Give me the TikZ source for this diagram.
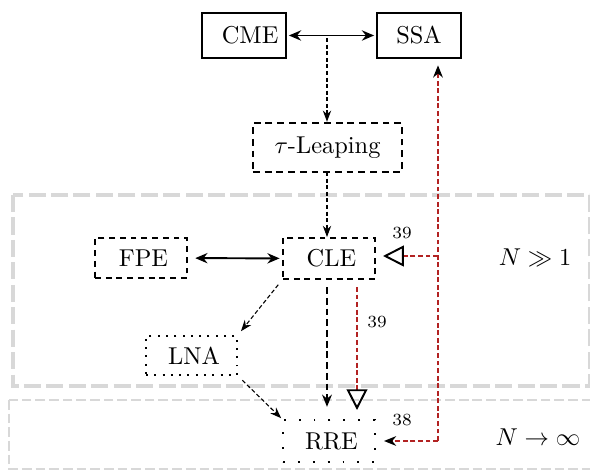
\documentclass[tikz,border=0pt]{standalone}
\usetikzlibrary{arrows.meta,calc}
\definecolor{redd}{RGB}{178,34,34}
\definecolor{grayb}{RGB}{216,216,216}
\tikzset{
  solidbox/.style={draw, line width=0.8pt, inner sep=0pt},
  dashbox/.style={draw, line width=0.8pt, dash pattern=on 2.4pt off 2pt, inner sep=0pt},
  taubox/.style={draw, line width=1pt, dash pattern=on 2.8pt off 2pt, inner sep=0pt},
  dotbox/.style={draw, line width=0.8pt, dash pattern=on 0.8pt off 2.6pt, inner sep=0pt},
  loosedotbox/.style={draw, line width=0.8pt, dash pattern=on 0.8pt off 5.3pt, inner sep=0pt},
  solidarrow/.style={line width=0.8pt, {Stealth[length=5pt,width=4.2pt]}-{Stealth[length=5pt,width=4.2pt]}},
  thinarrow/.style={line width=0.45pt, dash pattern=on 1.7pt off 1pt, -{Stealth[length=4.6pt,width=3.4pt]}},
  thickarrow/.style={line width=0.8pt, dash pattern=on 2.8pt off 1.6pt, -{Stealth[length=5pt,width=4pt]}},
  redline/.style={draw=redd, line width=0.65pt, dash pattern=on 2pt off 1.1pt},
  lbl/.style={font=\scriptsize, inner sep=0pt},
  region/.style={draw=grayb, line width=1.6pt, dash pattern=on 7pt off 2.2pt},
  regiontwo/.style={draw=grayb, line width=1pt, dash pattern=on 4pt off 1.6pt}
}
\begin{document}
\begin{tikzpicture}[x=0.41pt,y=-0.41pt]
\useasboundingbox (0,0) rectangle (590,470);
% regions
\draw[region] (13,195) rectangle (590,386);
\draw[regiontwo] (9,400) rectangle (600,469);
% nodes
\node[solidbox, minimum width=34.4pt, minimum height=18.5pt] (CME) at (244,35.5) {\hspace*{5pt}CME};
\node[solidbox, minimum width=34.4pt, minimum height=18.5pt] (SSA) at (419,35.5) {SSA};
\node[taubox, minimum width=61.1pt, minimum height=20.1pt] (tau) at (327.5,147.5) {$\tau$-Leaping};
\node[dashbox, minimum width=37.7pt, minimum height=16.8pt] (CLE) at (329,258.5) {\hspace*{2pt}CLE};
\node[dashbox, minimum width=37.7pt, minimum height=16.4pt] (FPE) at (141,258) {\hspace*{2pt}FPE};
\node[dotbox, minimum width=37.3pt, minimum height=16pt] (LNA) at (191.5,355.5) {\hspace*{2pt}LNA};
\node[loosedotbox, minimum width=37.7pt, minimum height=17.2pt] (RRE) at (329,441) {\hspace*{2pt}RRE};
% labels
\node[inner sep=0pt] (nbig) at (535,258) {$N \gg 1$};
\node[inner sep=0pt] (ninf) at (538,437) {$N \rightarrow \infty$};
\node[lbl] (l39a) at (402,233) {39};
\node[lbl] (l39b) at (377,322) {39};
\node[lbl] (l38) at (402,420) {38};
% black connectors
\draw[solidarrow, shorten <=0.8pt, shorten >=0.8pt] (CME) -- (SSA);
\coordinate (m1) at (327,38);
\draw[thinarrow] (m1) -- (m1 |- tau.north);
\coordinate (m2) at (327,172);
\draw[thinarrow] (m2) -- (m2 |- CLE.north);
\draw[solidarrow, shorten <=3pt, shorten >=1pt] (FPE) -- (CLE);
\draw[thinarrow, shorten <=2.5pt, shorten >=2pt] (CLE.south west) -- (LNA.north east);
\draw[thinarrow, shorten <=2.5pt, shorten >=0.5pt] (LNA.south east) -- (RRE.north west);
\coordinate (m3) at (327,279);
\draw[thickarrow, shorten <=3.3pt, shorten >=5pt] (m3) -- (m3 |- RRE.north);
% red connectors
\coordinate (r0) at (357,279);
\draw[redline, -{Triangle[open,length=8.5pt,width=8.5pt,black,line width=0.8pt]}, shorten <=3.3pt, shorten >=3.7pt] (r0) -- (r0 |- RRE.north);
\coordinate (c1) at (438,441);
\coordinate (c2) at (438,256);
\draw[redline, -{Stealth[length=5pt,width=4pt,black]}, shorten >=2.6pt] (c1) -- (c1 |- SSA.south);
\draw[redline, -{Triangle[open,length=8.5pt,width=8.5pt,black,line width=0.8pt]}, shorten >=2.9pt] (c2) -- (c2 -| CLE.east);
\draw[redline, -{Stealth[length=5pt,width=4pt,black]}, shorten >=3.3pt] (c1) -- (c1 -| RRE.east);
\end{tikzpicture}
\end{document}
